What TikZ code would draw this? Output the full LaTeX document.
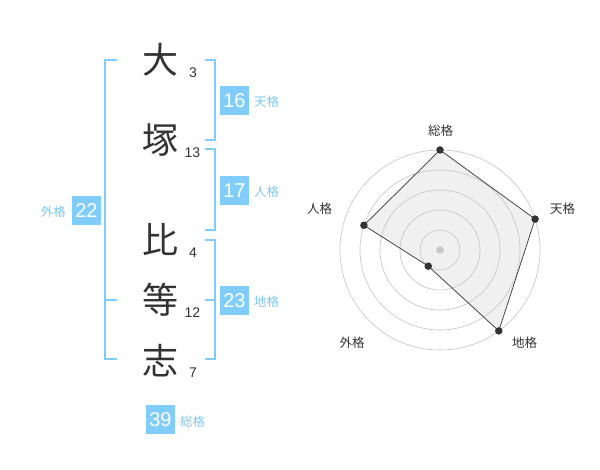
\documentclass[tikz,border=0pt]{standalone}
\usepackage{fontspec}
\setmainfont{Liberation Sans}
\newfontfamily\jp{Noto Sans CJK JP}
\definecolor{ink}{RGB}{51,51,51}
\definecolor{boxblue}{RGB}{128,204,250}
\definecolor{lblue}{RGB}{125,200,240}
\definecolor{gridgray}{RGB}{200,200,200}
\definecolor{polyfill}{RGB}{240,240,240}
\begin{document}
\begin{tikzpicture}[x=1pt,y=-1pt,
  kanji/.style={font=\jp\fontsize{36}{36}\selectfont, text=ink, inner sep=0pt},
  strokes/.style={font=\fontsize{14}{14}\selectfont, text=ink, inner sep=0pt},
  numbox/.style={fill=boxblue, text=white, minimum width=29pt, minimum height=29pt, inner sep=0pt, font=\fontsize{20}{20}\selectfont},
  note/.style={text=lblue, font=\jp\fontsize{12.5}{12.5}\selectfont, inner sep=0pt},
  radarlabel/.style={text=ink, font=\jp\fontsize{12.5}{12.5}\selectfont, inner sep=0pt},
  bracket/.style={draw=boxblue, line width=2pt},
  ring/.style={draw=gridgray, line width=0.7pt},
  poly/.style={draw=ink, line width=0.7pt},
  dot/.style={circle, fill=ink, minimum size=7.5pt, inner sep=0pt},
  cdot/.style={circle, fill=gridgray, minimum size=7.5pt, inner sep=0pt}]
\useasboundingbox (0,0) rectangle (600,470);

% characters
\node[kanji] (k1) at (160,60) {大};
\node[kanji] (k2) at (160,140) {塚};
\node[kanji] (k3) at (160,240) {比};
\node[kanji] (k4) at (160,300) {等};
\node[kanji] (k5) at (160,361) {志};
\node[strokes] (s1) at (193,73) {3};
\node[strokes] (s2) at (192.5,152.5) {13};
\node[strokes] (s3) at (193,253) {4};
\node[strokes] (s4) at (192.5,313) {12};
\node[strokes] (s5) at (193,373) {7};

% brackets
\draw[bracket] (117,60) -- (105,60) -- (105,359) -- (117,359);
\draw[bracket] (105,300) -- (117,300);
\draw[bracket] (205,60) -- (215,60) -- (215,140) -- (205,140);
\draw[bracket] (205,149) -- (215,149) -- (215,230) -- (205,230);
\draw[bracket] (205,240) -- (215,240) -- (215,359) -- (205,359);
\draw[bracket] (205,300) -- (215,300);

% boxes
\node[numbox] (b16) at (234.5,100.5) {16};
\node[note, anchor=west] (l16) at (254,102) {天格};
\node[numbox] (b17) at (234.5,190.5) {17};
\node[note, anchor=west] (l17) at (254,192) {人格};
\node[numbox] (b23) at (234.5,300.5) {23};
\node[note, anchor=west] (l23) at (254,302) {地格};
\node[numbox] (b22) at (86.5,210.5) {22};
\node[note, anchor=east] (l22) at (66,212) {外格};
\node[numbox] (b39) at (160.5,419.5) {39};
\node[note, anchor=west] (l39) at (180,422) {総格};

% radar
\begin{scope}[shift={(440,250)}]
  \coordinate (c) at (0,0);
  \coordinate (psou) at (90:100pt);
  \coordinate (pten) at (18:100pt);
  \coordinate (pchi) at (-54:100pt);
  \coordinate (pgai) at (-126:20pt);
  \coordinate (pjin) at (162:80pt);
  \fill[polyfill] (psou) -- (pten) -- (pchi) -- (pgai) -- (pjin) -- cycle;
  \foreach \r in {20,40,60,80,100} \draw[ring] (c) circle[radius=\r pt];
  \draw[poly] (psou) -- (pten) -- (pchi) -- (pgai) -- (pjin) -- cycle;
  \node[cdot] (cc) at (c) {};
  \node[dot] (dsou) at (psou) {};
  \node[dot] (dten) at (pten) {};
  \node[dot] (dchi) at (pchi) {};
  \node[dot] (dgai) at (pgai) {};
  \node[dot] (djin) at (pjin) {};
\end{scope}
\node[radarlabel] (rsou) at (440.5,131) {総格};
\node[radarlabel] (rten) at (562.5,208.5) {天格};
\node[radarlabel] (rchi) at (524.5,342.5) {地格};
\node[radarlabel] (rgai) at (352,342.5) {外格};
\node[radarlabel] (rjin) at (319.5,208.5) {人格};
\end{tikzpicture}
\end{document}
